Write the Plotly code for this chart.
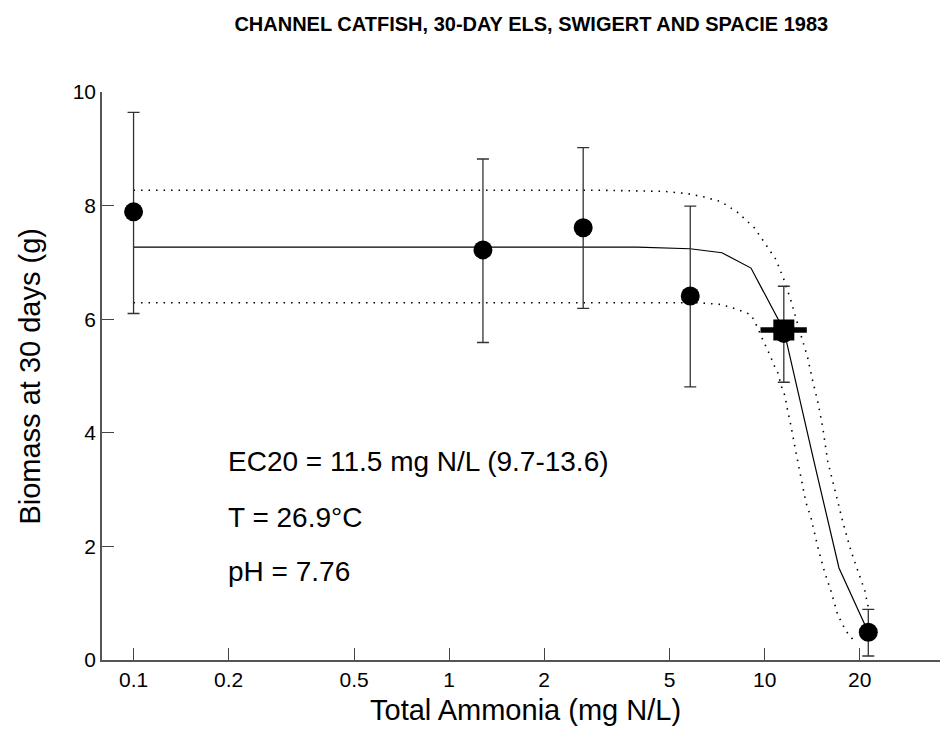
import numpy as np
import plotly.graph_objects as go

# measured points (concentration in mg N/L, biomass in g)
conc = [0.1, 1.28, 2.66, 5.81, 11.5, 21.3]
biomass = [7.89, 7.22, 7.61, 6.41, 5.75, 0.49]
biomass_hi = [9.64, 8.82, 9.02, 7.99, 6.58, 0.89]
biomass_lo = [6.10, 5.59, 6.19, 4.81, 4.89, 0.07]

# fitted curve
fit_x = [0.1, 3.95, 5.8, 7.32, 9.05, 11.5, 14.3, 17.2, 21.3]
fit_y = [7.27, 7.27, 7.24, 7.17, 6.90, 5.81, 3.52, 1.62, 0.49]

# confidence bands
upper_x = [0.1, 1.0, 3.0, 4.81, 5.70, 6.44, 7.27, 8.21, 9.27, 9.98, 10.86, 11.54, 12.12,
           12.73, 13.20, 13.69, 14.20, 14.72, 15.27, 15.84, 16.63, 17.67, 18.77, 19.96,
           20.79, 21.31]
upper_y = [8.27, 8.27, 8.27, 8.25, 8.21, 8.15, 8.07, 7.88, 7.61, 7.35, 7.05, 6.68, 6.32,
           5.91, 5.62, 5.32, 4.91, 4.56, 4.10, 3.50, 3.03, 2.44, 1.92, 1.50, 1.21, 0.92]
lower_x = [0.1, 1.0, 3.0, 5.05, 6.13, 7.27, 8.21, 9.05, 9.39, 9.86, 10.15, 10.43, 10.68,
           11.00, 11.34, 11.60, 11.83, 12.03, 12.57, 13.03, 13.52, 14.03, 14.72, 15.46,
           16.23, 17.03, 18.10, 19.24]
lower_y = [6.29, 6.29, 6.29, 6.29, 6.29, 6.26, 6.17, 6.08, 5.91, 5.64, 5.50, 5.35, 5.20,
           5.06, 4.79, 4.65, 4.38, 4.21, 3.65, 3.21, 2.77, 2.50, 2.00, 1.56, 1.21, 0.80,
           0.51, 0.33]

# EC20 and its interval
ec20 = 11.5
ec20_y = 5.81
ec20_ci = [9.7, 13.6]

x_ticks = [0.1, 0.2, 0.5, 1, 2, 5, 10, 20]
x_ticktext = ["0.1", "0.2", "0.5", "1", "2", "5", "10", "20"]
y_ticks = [0, 2, 4, 6, 8, 10]

notes = ["EC20 = 11.5 mg N/L (9.7-13.6)", "T = 26.9°C", "pH = 7.76"]
note_y = [3.49, 2.51, 1.56]

FONT = "Liberation Sans, Arial, sans-serif"

fig = go.Figure()

# dotted confidence limits
for bx, by in [(upper_x, upper_y), (lower_x, lower_y)]:
    fig.add_trace(go.Scatter(
        x=bx, y=by, mode="lines",
        line=dict(color="black", width=1.6, dash="1.5px,6px"),
        hoverinfo="skip",
    ))

fig.add_trace(go.Scatter(
    x=fit_x, y=fit_y, mode="lines",
    line=dict(color="black", width=1.2),
))

fig.add_trace(go.Scatter(
    x=conc, y=biomass, mode="markers",
    marker=dict(size=19, color="black", symbol="circle"),
    error_y=dict(
        type="data", symmetric=False,
        array=list(np.array(biomass_hi) - np.array(biomass)),
        arrayminus=list(np.array(biomass) - np.array(biomass_lo)),
        width=6, thickness=1.3, color="#333333",
    ),
))

# EC20 with its interval
fig.add_trace(go.Scatter(
    x=ec20_ci, y=[ec20_y, ec20_y], mode="lines",
    line=dict(color="black", width=5.5),
))
fig.add_trace(go.Scatter(
    x=[ec20], y=[ec20_y], mode="markers",
    marker=dict(size=21, color="black", symbol="square"),
))

for txt, ty in zip(notes, note_y):
    fig.add_annotation(
        x=0.146, xref="paper", y=ty, yref="y",
        text=txt, showarrow=False, xanchor="left", yanchor="middle",
        font=dict(family=FONT, size=28, color="black"),
    )

fig.add_annotation(
    x=0.497, xref="paper", y=-0.088, yref="paper",
    text="Total Ammonia (mg N/L)", showarrow=False,
    xanchor="center", yanchor="middle",
    font=dict(family=FONT, size=29, color="black"),
)
fig.add_annotation(
    x=-0.085, xref="paper", y=0.5, yref="paper", xanchor="center", yanchor="middle",
    text="Biomass at 30 days (g)", showarrow=False, textangle=-90,
    font=dict(family=FONT, size=29, color="black"),
)

fig.update_layout(
    title=dict(
        text="<b>CHANNEL CATFISH, 30-DAY ELS, SWIGERT AND SPACIE 1983</b>",
        x=0.552, xanchor="center", y=0.978, yanchor="middle",
        font=dict(family=FONT, size=20, color="black"),
    ),
    xaxis=dict(
        type="log", range=[-1.1, 1.6],
        tickvals=x_ticks, ticktext=x_ticktext,
        ticks="inside", ticklen=12, tickwidth=1.3, tickcolor="#444444",
        showline=True, linecolor="#555555", linewidth=1.5,
        showgrid=False, zeroline=False,
        tickfont=dict(family=FONT, size=21, color="black"),
    ),
    yaxis=dict(
        range=[0, 10], tickvals=y_ticks,
        ticks="inside", ticklen=12, tickwidth=1.3, tickcolor="#444444",
        showline=True, linecolor="#555555", linewidth=1.5,
        showgrid=False, zeroline=False,
        tickfont=dict(family=FONT, size=21, color="black"),
    ),
    showlegend=False,
    plot_bgcolor="white",
    paper_bgcolor="white",
    width=948,
    height=740,
    margin=dict(l=94, r=2, t=84, b=88),
)

fig.write_html("out.html")
